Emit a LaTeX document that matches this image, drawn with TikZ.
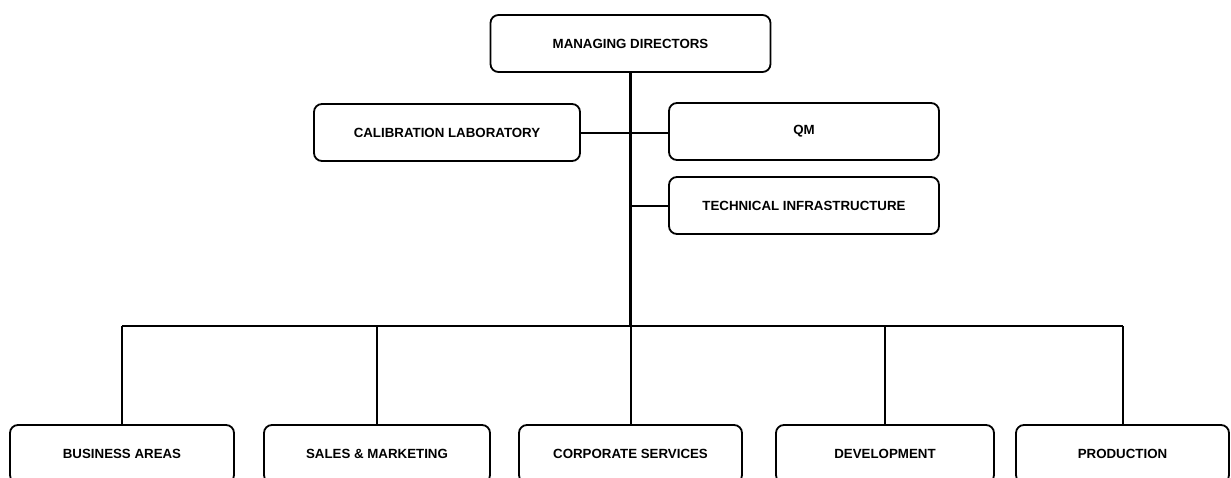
\documentclass[tikz,border=0pt]{standalone}
\usepackage{fontspec}
\setmainfont{Liberation Sans}
\tikzset{>=latex}

\begin{document}
\begin{tikzpicture}[x=1pt, y=-1pt,
unit/.style={draw, rounded corners=8pt, line width=1.8pt, minimum height=57pt, inner sep=0pt,
  font=\fontsize{13.3}{16}\selectfont\bfseries},
link/.style={line width=2pt},
trunk/.style={line width=3pt}]
\clip (0,0) rectangle (1231,477);
\node[unit, minimum width=280pt] (md) at (630.5,43.5) {MANAGING DIRECTORS};
\node[unit, minimum width=266pt] (cal) at (447,132.5) {CALIBRATION LABORATORY};
\node[unit, minimum width=270pt] (qm) at (804,131.5) {QM};
\node[unit, minimum width=270pt] (ti) at (804,205.5) {TECHNICAL INFRASTRUCTURE};
\node[unit, minimum width=224pt, minimum height=58pt] (ba) at (122,454) {BUSINESS AREAS};
\node[unit, minimum width=226pt, minimum height=58pt] (sm) at (377,454) {SALES \& MARKETING};
\node[unit, minimum width=223pt, minimum height=58pt] (cs) at (630.5,454) {CORPORATE SERVICES};
\node[unit, minimum width=218pt, minimum height=58pt] (dv) at (885,454) {DEVELOPMENT};
\node[unit, minimum width=213pt, minimum height=58pt] (pr) at (1122.5,454) {PRODUCTION};
\coordinate (bus) at (630.5,326);
\draw[trunk] (md.south) -- (bus);
\draw[link] (cal.east) -- (cal.east -| qm.west);
\draw[link] (ti.west) -- (ti.west -| md.south);
\draw[link] (bus -| ba.north) -- (bus -| pr.north);
\draw[link] (ba.north) -- (ba.north |- bus);
\draw[link] (sm.north) -- (sm.north |- bus);
\draw[link] (cs.north) -- (bus);
\draw[link] (dv.north) -- (dv.north |- bus);
\draw[link] (pr.north) -- (pr.north |- bus);
\end{tikzpicture}
\end{document}
